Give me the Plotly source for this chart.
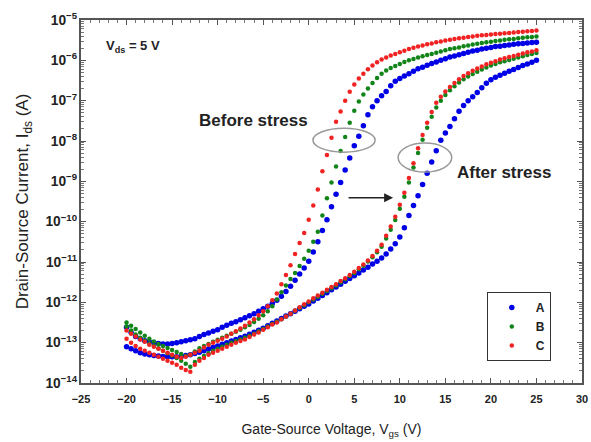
import plotly.graph_objects as go

# Gate-source voltage sweep (V)
vgs = [-20, -19.5, -19, -18.5, -18, -17.5, -17, -16.5, -16, -15.5,
       -15, -14.5, -14, -13.5, -13, -12.5, -12, -11.5, -11, -10.5,
       -10, -9.5, -9, -8.5, -8, -7.5, -7, -6.5, -6, -5.5,
       -5, -4.5, -4, -3.5, -3, -2.5, -2, -1.5, -1, -0.5,
       0, 0.5, 1, 1.5, 2, 2.5, 3, 3.5, 4, 4.5,
       5, 5.5, 6, 6.5, 7, 7.5, 8, 8.5, 9, 9.5,
       10, 10.5, 11, 11.5, 12, 12.5, 13, 13.5, 14, 14.5,
       15, 15.5, 16, 16.5, 17, 17.5, 18, 18.5, 19, 19.5,
       20, 20.5, 21, 21.5, 22, 22.5, 23, 23.5, 24, 24.5, 25]

# log10 of drain current (A)
a_before = [-12.62, -12.75, -12.85, -12.90, -12.95, -12.98, -13.00, -13.02, -13.03, -13.03,
            -13.02, -13.00, -12.98, -12.95, -12.93, -12.90, -12.85, -12.80, -12.76, -12.72,
            -12.68, -12.62, -12.57, -12.52, -12.48, -12.43, -12.38, -12.33, -12.28, -12.22,
            -12.16, -12.10, -12.03, -11.95, -11.85, -11.73, -11.60, -11.45, -11.30, -11.15,
            -10.98, -10.75, -10.50, -10.22, -9.95, -9.63, -9.32, -9.03, -8.72, -8.42,
            -8.12, -7.88, -7.62, -7.35, -7.15, -7.00, -6.88, -6.77, -6.63, -6.52,
            -6.45, -6.39, -6.33, -6.27, -6.21, -6.17, -6.12, -6.08, -6.04, -6.00,
            -5.96, -5.92, -5.89, -5.86, -5.83, -5.80, -5.77, -5.75, -5.72, -5.70,
            -5.68, -5.66, -5.65, -5.63, -5.62, -5.60, -5.59, -5.58, -5.57, -5.56, -5.55]
b_before = [-12.50, -12.58, -12.66, -12.75, -12.83, -12.90, -12.97, -13.03, -13.08, -13.13,
            -13.18, -13.23, -13.28, -13.33, -13.30, -13.22, -13.14, -13.08, -13.03, -12.98,
            -12.93, -12.88, -12.83, -12.78, -12.73, -12.68, -12.62, -12.56, -12.49, -12.41,
            -12.32, -12.22, -12.10, -11.93, -11.75, -11.58, -11.42, -11.27, -11.10, -10.92,
            -10.72, -10.50, -10.25, -9.85, -9.42, -9.03, -8.63, -8.25, -7.90, -7.55,
            -7.25, -7.02, -6.85, -6.70, -6.56, -6.44, -6.33, -6.25, -6.19, -6.14,
            -6.09, -6.04, -6.00, -5.97, -5.93, -5.90, -5.87, -5.84, -5.81, -5.78,
            -5.75, -5.72, -5.70, -5.68, -5.65, -5.63, -5.61, -5.59, -5.57, -5.55,
            -5.54, -5.52, -5.51, -5.49, -5.48, -5.47, -5.45, -5.44, -5.43, -5.42, -5.41]
c_before = [-12.70, -12.78, -12.85, -12.92, -12.98, -13.05, -13.10, -13.15, -13.20, -13.25,
            -13.30, -13.35, -13.38, -13.35, -13.30, -13.25, -13.20, -13.12, -13.05, -13.00,
            -12.95, -12.90, -12.85, -12.78, -12.72, -12.65, -12.58, -12.50, -12.42, -12.32,
            -12.22, -12.10, -11.95, -11.78, -11.55, -11.32, -11.08, -10.80, -10.53, -10.28,
            -9.95, -9.60, -9.20, -8.75, -8.35, -7.92, -7.52, -7.27, -7.00, -6.78,
            -6.60, -6.45, -6.33, -6.22, -6.13, -6.05, -5.98, -5.93, -5.88, -5.84,
            -5.80, -5.76, -5.72, -5.69, -5.66, -5.63, -5.60, -5.58, -5.55, -5.53,
            -5.51, -5.49, -5.47, -5.45, -5.44, -5.42, -5.41, -5.39, -5.38, -5.37,
            -5.36, -5.35, -5.34, -5.33, -5.32, -5.31, -5.30, -5.29, -5.28, -5.27, -5.26]
a_after = [-13.10, -13.15, -13.20, -13.25, -13.28, -13.30, -13.32, -13.33, -13.34, -13.35,
           -13.35, -13.35, -13.34, -13.32, -13.30, -13.27, -13.24, -13.20, -13.16, -13.12,
           -13.08, -13.04, -13.00, -12.96, -12.92, -12.88, -12.84, -12.79, -12.74, -12.69,
           -12.64, -12.58, -12.52, -12.46, -12.40, -12.34, -12.28, -12.22, -12.16, -12.10,
           -12.04, -11.97, -11.90, -11.83, -11.76, -11.69, -11.62, -11.55, -11.48, -11.41,
           -11.34, -11.27, -11.20, -11.13, -11.05, -10.98, -10.90, -10.80, -10.68, -10.55,
           -10.38, -10.15, -9.85, -9.60, -9.36, -9.08, -8.80, -8.52, -8.24, -7.98,
           -7.80, -7.64, -7.45, -7.26, -7.12, -7.00, -6.90, -6.80, -6.68, -6.57,
           -6.48, -6.42, -6.37, -6.32, -6.27, -6.23, -6.18, -6.13, -6.09, -6.05, -6.00]
b_after = [-12.60, -12.70, -12.80, -12.88, -12.95, -13.02, -13.08, -13.14, -13.20, -13.26,
           -13.32, -13.38, -13.45, -13.52, -13.60, -13.48, -13.40, -13.33, -13.26, -13.20,
           -13.15, -13.10, -13.05, -13.00, -12.96, -12.92, -12.88, -12.83, -12.78, -12.72,
           -12.66, -12.60, -12.54, -12.48, -12.42, -12.35, -12.28, -12.21, -12.14, -12.07,
           -12.00, -11.93, -11.86, -11.79, -11.72, -11.65, -11.58, -11.50, -11.43, -11.35,
           -11.27, -11.18, -11.09, -10.99, -10.88, -10.76, -10.62, -10.42, -10.20, -9.96,
           -9.68, -9.38, -9.03, -8.66, -8.30, -7.97, -7.67, -7.40, -7.17, -7.00,
           -6.86, -6.74, -6.64, -6.55, -6.47, -6.40, -6.34, -6.28, -6.23, -6.18,
           -6.13, -6.09, -6.05, -6.02, -5.99, -5.96, -5.93, -5.90, -5.87, -5.84, -5.82]
c_after = [-12.90, -13.00, -13.08, -13.15, -13.20, -13.25, -13.30, -13.35, -13.40, -13.45,
           -13.50, -13.55, -13.62, -13.68, -13.72, -13.55, -13.45, -13.38, -13.30, -13.25,
           -13.20, -13.15, -13.10, -13.05, -13.00, -12.96, -12.92, -12.86, -12.80, -12.75,
           -12.68, -12.62, -12.55, -12.50, -12.42, -12.35, -12.28, -12.20, -12.12, -12.05,
           -11.98, -11.90, -11.83, -11.76, -11.69, -11.62, -11.55, -11.47, -11.40, -11.32,
           -11.24, -11.15, -11.06, -10.96, -10.85, -10.72, -10.57, -10.35, -10.12, -9.88,
           -9.58, -9.28, -8.92, -8.55, -8.18, -7.85, -7.55, -7.28, -7.05, -6.90,
           -6.77, -6.66, -6.56, -6.47, -6.39, -6.32, -6.26, -6.20, -6.15, -6.10,
           -6.06, -6.02, -5.98, -5.95, -5.92, -5.89, -5.86, -5.83, -5.80, -5.78, -5.75]

series_names = ["A", "B", "C"]
series_colors = ["#0000e6", "#12851a", "#f02222"]
series_sizes = [5.5, 4.5, 4.5]
before_sets = [a_before, b_before, c_before]
after_sets = [a_after, b_after, c_after]

FONT = "Liberation Sans, Arial, sans-serif"

fig = go.Figure()
for name, col, sz, bef, aft in zip(series_names, series_colors, series_sizes, before_sets, after_sets):
    fig.add_trace(go.Scatter(
        x=vgs, y=[10 ** v for v in aft], mode="markers", name=name, legendgroup=name,
        showlegend=False, marker=dict(color=col, size=sz, line=dict(width=0))))
    fig.add_trace(go.Scatter(
        x=vgs, y=[10 ** v for v in bef], mode="markers", name=name, legendgroup=name,
        showlegend=True, marker=dict(color=col, size=sz, line=dict(width=0))))

axis_common = dict(
    showline=True, linecolor="#555555", linewidth=1.5, mirror="allticks",
    ticks="inside", ticklen=5, tickcolor="#555555", showgrid=False, zeroline=False,
    automargin=False,
    tickfont=dict(family=FONT, size=11, color="#222222", weight="bold"),
)

fig.update_xaxes(
    range=[-25, 30], tick0=-25, dtick=5, ticklabelstandoff=5, **axis_common,
    minor=dict(ticks="inside", ticklen=3, dtick=1, tickcolor="#777777"),
    title=dict(text="Gate-Source Voltage, V<sub>gs</sub> (V)",
               font=dict(family=FONT, size=14, color="#222222"), standoff=20),
)
fig.update_yaxes(
    type="log", range=[-14, -5], dtick=1, exponentformat="power", **axis_common,
    minor=dict(ticks="inside", ticklen=3, dtick="D1", tickcolor="#777777"),
    title=dict(text="Drain-Source Current, I<sub>ds</sub> (A)",
               font=dict(family=FONT, size=17, color="#222222"), standoff=12),
)

# ellipses (paper coordinates)
fig.add_shape(type="circle", xref="paper", yref="paper", x0=0.463, x1=0.587, y0=0.636, y1=0.702,
              line=dict(color="#999999", width=1.5))
fig.add_shape(type="circle", xref="paper", yref="paper", x0=0.633, x1=0.740, y0=0.581, y1=0.661,
              line=dict(color="#999999", width=1.5))

# arrow
fig.add_annotation(xref="paper", yref="paper", x=0.623, y=0.510, ax=-46, ay=0,
                   axref="pixel", ayref="pixel",
                   showarrow=True, arrowhead=2, arrowsize=1.2,
                   arrowwidth=1.5, arrowcolor="#222222", text="")

txt_font = dict(family=FONT, size=17, color="#222222", weight="bold")
fig.add_annotation(xref="paper", yref="paper", x=0.345, y=0.722, text="Before stress",
                   xanchor="center", yanchor="middle", showarrow=False, font=txt_font)
fig.add_annotation(xref="paper", yref="paper", x=0.846, y=0.579, text="After stress",
                   xanchor="center", yanchor="middle", showarrow=False, font=txt_font)
fig.add_annotation(xref="paper", yref="paper", x=0.104, y=0.926,
                   text="V<sub>ds</sub> = 5 V", showarrow=False,
                   xanchor="center", yanchor="middle",
                   font=dict(family=FONT, size=13, color="#222222", weight="bold"))

fig.update_layout(
    width=591, height=442,
    margin=dict(l=81, r=9, t=20, b=59),
    paper_bgcolor="white", plot_bgcolor="white",
    showlegend=True,
    legend=dict(x=0.81, y=0.251, xanchor="left", yanchor="top",
                bordercolor="#333333", borderwidth=1, bgcolor="white",
                font=dict(family=FONT, size=12, color="#222222", weight="bold"),
                itemwidth=38, tracegroupgap=0, traceorder="normal"),
)

fig.write_html("out.html", config={"displayModeBar": False},
               post_script="document.body.style.margin='0px';")
